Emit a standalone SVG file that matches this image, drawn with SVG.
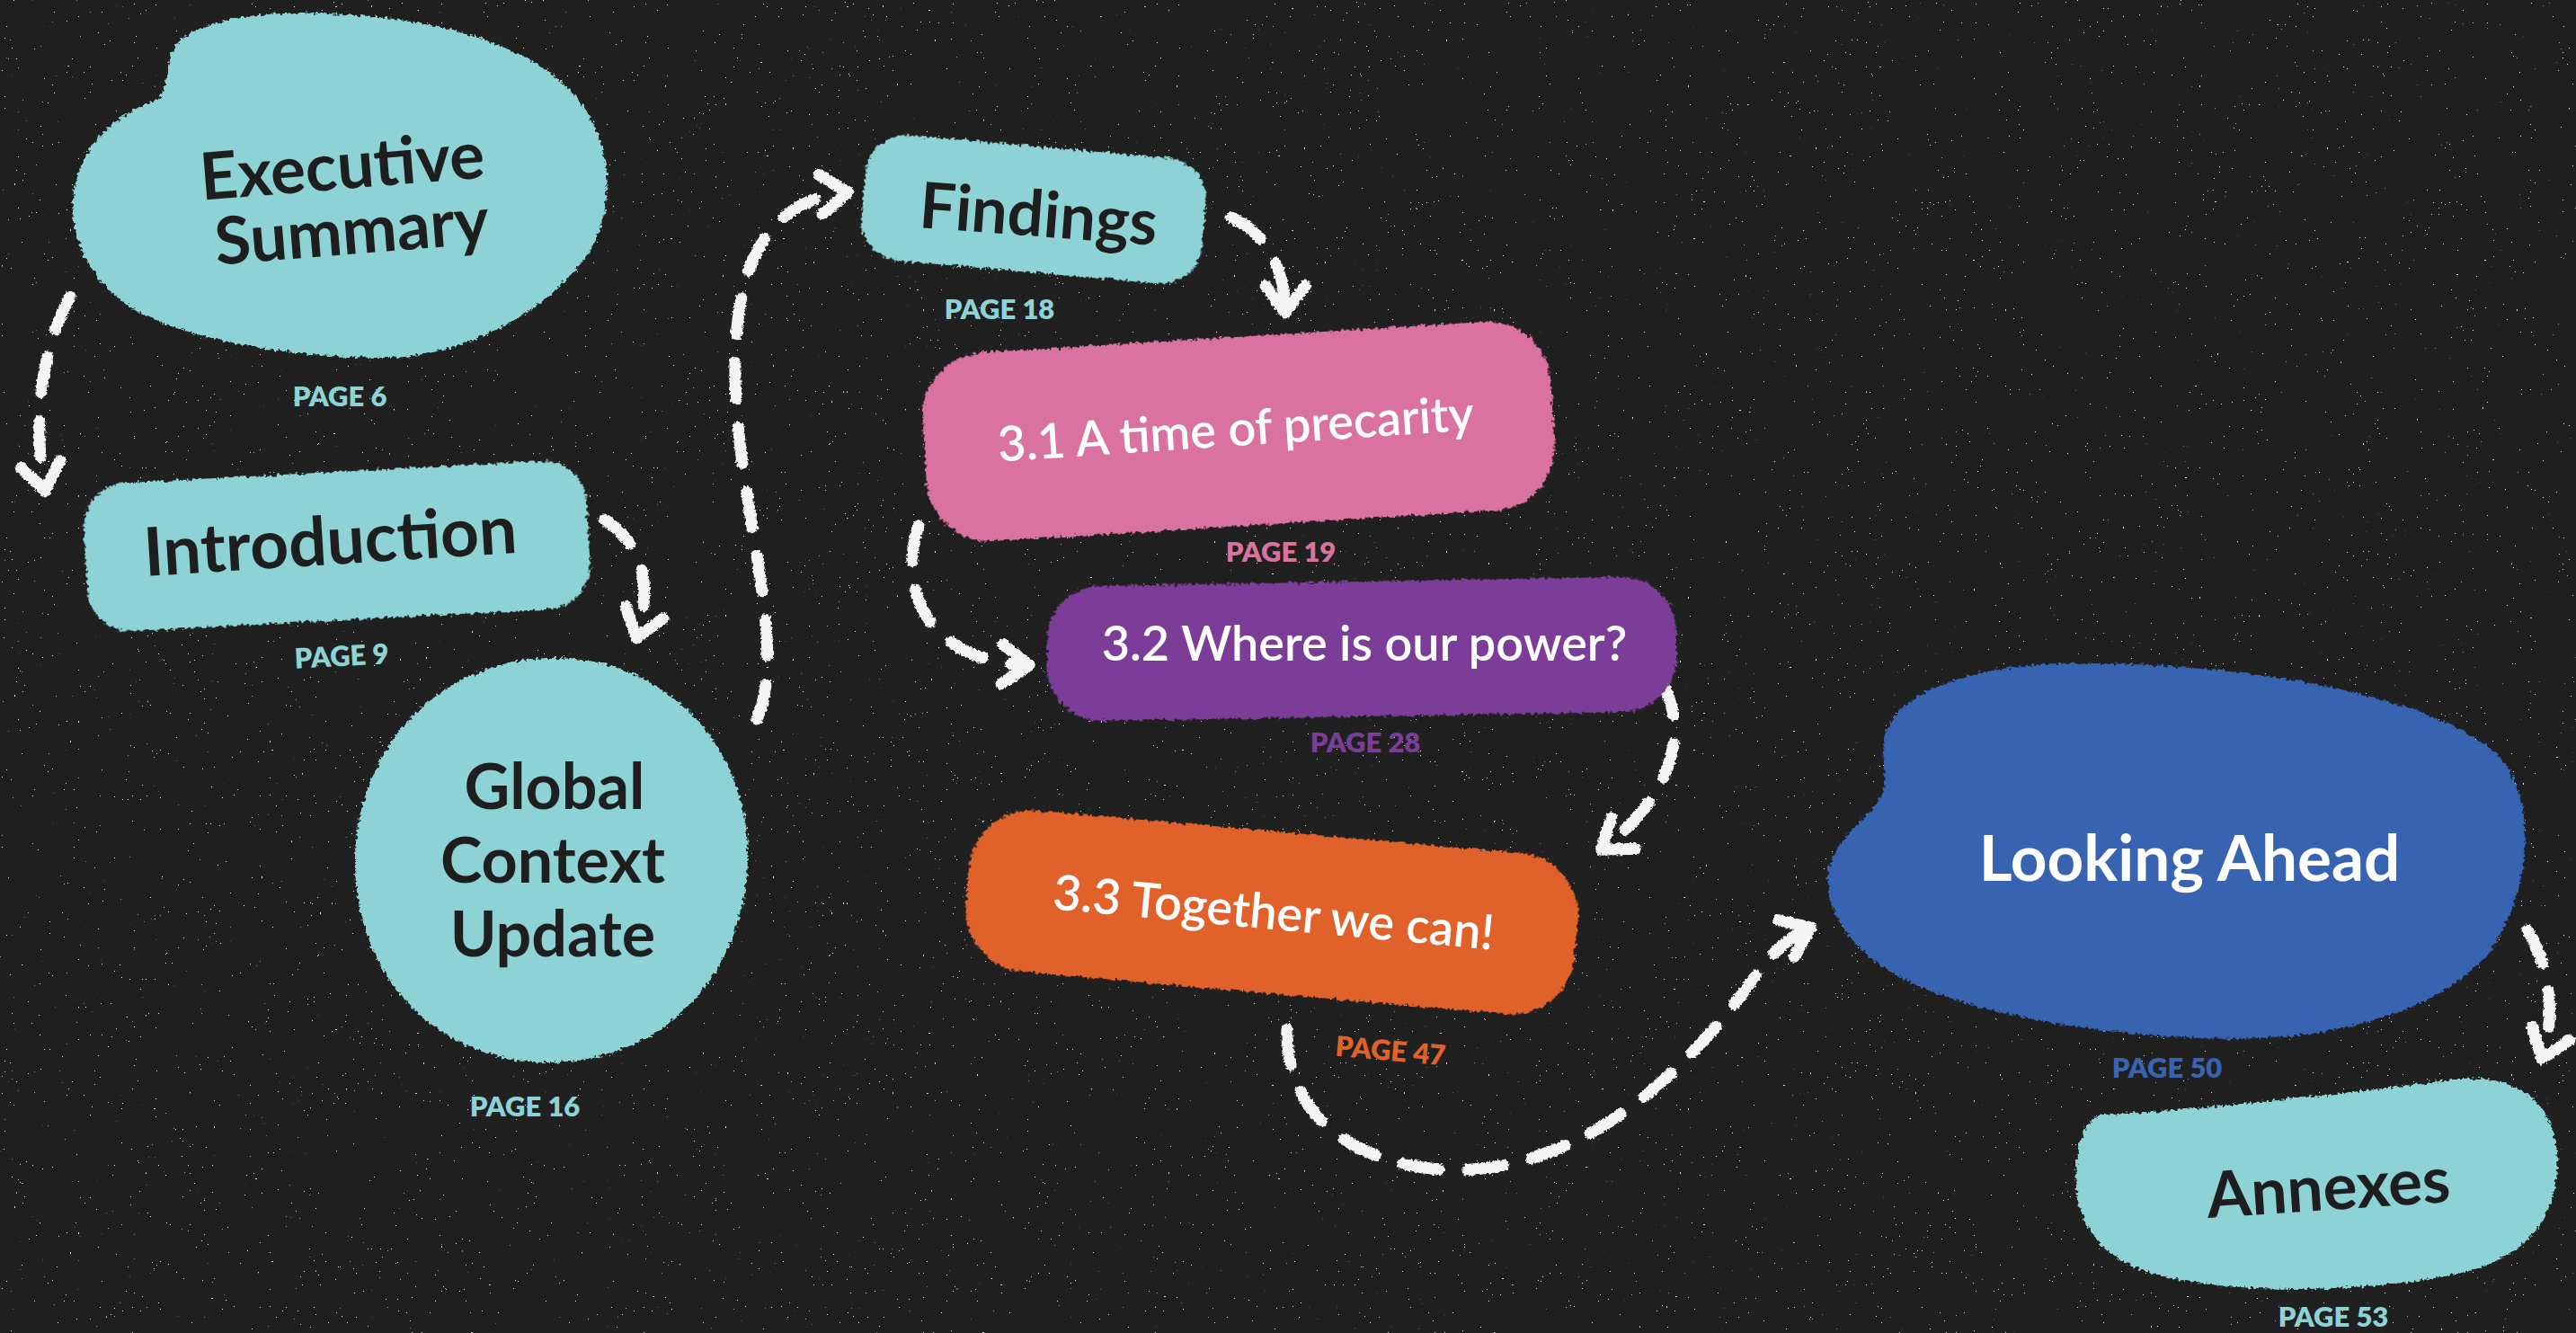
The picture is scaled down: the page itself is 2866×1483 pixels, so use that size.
<svg xmlns="http://www.w3.org/2000/svg" width="2866" height="1483" viewBox="0 0 2866 1483">
<defs>
<style>
.bg{fill:#202020}
.teal{fill:#8dd3d5}
.pink{fill:#d9729f}
.purple{fill:#7b3e98}
.orange{fill:#e0622a}
.blue{fill:#3763b0}
.dark{font-family:Lato,"Liberation Sans",sans-serif;font-weight:700;fill:#1e1e1e;text-anchor:middle}
.light{font-family:Lato,"Liberation Sans",sans-serif;font-weight:600;fill:#ffffff;text-anchor:middle}
.lightb{font-family:Lato,"Liberation Sans",sans-serif;font-weight:700;fill:#ffffff;text-anchor:middle}
.pg{font-family:Lato,"Liberation Sans",sans-serif;font-weight:800;font-size:31px;text-anchor:middle}
.conn{fill:none;stroke:#f4f4f4;stroke-width:13;stroke-linecap:round;stroke-dasharray:40 32;marker-end:url(#arrow)}
</style>
<filter id="rough" x="-5%" y="-5%" width="110%" height="110%">
<feTurbulence type="fractalNoise" baseFrequency="0.25" numOctaves="2" seed="4" result="n"/>
<feDisplacementMap in="SourceGraphic" in2="n" scale="8" xChannelSelector="R" yChannelSelector="G"/>
</filter>
<filter id="chalk" x="-5%" y="-5%" width="110%" height="110%">
<feTurbulence type="fractalNoise" baseFrequency="0.35" numOctaves="2" seed="9" result="n"/>
<feDisplacementMap in="SourceGraphic" in2="n" scale="5" xChannelSelector="R" yChannelSelector="G"/>
</filter>
<filter id="speck" x="0" y="0" width="1" height="1">
<feTurbulence type="fractalNoise" baseFrequency="0.45" numOctaves="2" seed="7"/>
<feColorMatrix type="matrix" values="0 0 0 0 1  0 0 0 0 1  0 0 0 0 1  60 0 0 0 -47.5"/>
</filter>
<marker id="arrow" markerUnits="userSpaceOnUse" viewBox="-45 -35 60 70" markerWidth="60" markerHeight="70" refX="0" refY="0" orient="auto">
<path d="M -30 -22 L 0 0 L -30 22" fill="none" stroke="#f4f4f4" stroke-width="13" stroke-linecap="round" stroke-linejoin="round"/>
</marker>
</defs>
<rect class="bg" x="0" y="0" width="2866" height="1483"/>
<rect x="0" y="0" width="2866" height="1483" fill="#fff" filter="url(#speck)" opacity="0.9"/>

<g id="connectors" filter="url(#chalk)">
<path class="conn" d="M 78 330 C 48 385, 35 460, 50 546"/>
<path class="conn" d="M 672 578 C 715 605, 727 650, 708 710"/>
<path class="conn" d="M 842 800 C 878 720, 820 560, 818 420 C 816 300, 850 222, 943 214"/>
<path class="conn" d="M 1370 242 C 1410 260, 1430 300, 1430 348"/>
<path class="conn" d="M 1022 585 C 1000 650, 1025 735, 1145 740"/>
<path class="conn" d="M 1848 758 C 1880 810, 1862 885, 1782 945"/>
<path class="conn" d="M 1432 1145 C 1430 1250, 1520 1300, 1620 1302 C 1760 1300, 1870 1200, 1950 1090 C 1968 1064, 1985 1045, 2015 1032"/>
<path class="conn" d="M 2812 1035 C 2835 1070, 2845 1130, 2828 1178"/>
</g>

<g id="executive-summary">
<path class="teal" filter="url(#rough)" d="M 190 62 C 200 20, 300 12, 360 15 C 470 18, 600 45, 650 120 C 690 180, 680 260, 640 300 C 590 360, 500 398, 430 398 C 330 398, 220 380, 160 350 C 100 320, 75 260, 82 215 C 90 160, 130 125, 178 110 C 185 95, 186 75, 190 62 Z"/>
<g transform="rotate(-4.6 385 240)">
<text class="dark" x="385" y="210" font-size="73">Executive</text>
<text class="dark" x="390" y="283" font-size="73">Summary</text>
</g>
<text class="pg teal" x="378" y="452">PAGE 6</text>
</g>

<g id="introduction">
<rect class="teal" filter="url(#rough)" x="95" y="525" width="560" height="165" rx="48" transform="rotate(-3 375 607)"/>
<text class="dark" x="368" y="628" font-size="75" transform="rotate(-3.6 368 612)">Introduction</text>
<text class="pg teal" x="380" y="741" transform="rotate(-3 380 730)">PAGE 9</text>
</g>

<g id="global-context-update">
<path class="teal" filter="url(#rough)" d="M 613 732 C 740 730, 832 830, 832 950 C 832 1080, 740 1182, 612 1182 C 480 1182, 393 1080, 395 955 C 397 830, 490 734, 613 732 Z"/>
<text class="dark" x="617" y="900" font-size="70">Global</text>
<text class="dark" x="615" y="982" font-size="70">Context</text>
<text class="dark" x="615" y="1064" font-size="70">Update</text>
<text class="pg teal" x="584" y="1242">PAGE 16</text>
</g>

<g id="findings">
<rect class="teal" filter="url(#rough)" x="960" y="163" width="380" height="140" rx="45" transform="rotate(5 1150 233)"/>
<text class="dark" x="1155" y="263" font-size="71" transform="rotate(4.3 1155 245)">Findings</text>
<text class="pg teal" x="1112" y="355">PAGE 18</text>
</g>

<g id="section-3-1">
<rect class="pink" filter="url(#rough)" x="1028" y="375" width="700" height="210" rx="70" transform="rotate(-3.5 1378 480)"/>
<text class="light" x="1375" y="496" font-size="54" transform="rotate(-3.8 1375 480)">3.1 A time of precarity</text>
<text class="pg pink" x="1425" y="625">PAGE 19</text>
</g>

<g id="section-3-2">
<rect class="purple" filter="url(#rough)" x="1165" y="647" width="700" height="150" rx="60" transform="rotate(-1 1515 722)"/>
<text class="light" x="1518" y="735" font-size="54">3.2 Where is our power?</text>
<text class="pg purple" x="1519" y="837">PAGE 28</text>
</g>

<g id="section-3-3">
<rect class="orange" filter="url(#rough)" x="1075" y="925" width="680" height="180" rx="70" transform="rotate(5 1415 1015)"/>
<text class="light" x="1417" y="1034" font-size="54" transform="rotate(5.3 1417 1018)">3.3 Together we can!</text>
<text class="pg orange" x="1547" y="1180" transform="rotate(5 1547 1170)">PAGE 47</text>
</g>

<g id="looking-ahead">
<path class="blue" filter="url(#rough)" d="M 2100 810 C 2130 750, 2250 735, 2330 738 C 2500 740, 2700 770, 2780 840 C 2830 900, 2810 1000, 2770 1060 C 2700 1140, 2560 1160, 2450 1155 C 2330 1150, 2200 1130, 2120 1090 C 2060 1060, 2025 1010, 2035 965 C 2045 925, 2085 910, 2095 880 C 2100 855, 2090 830, 2100 810 Z"/>
<text class="lightb" x="2436" y="980" font-size="71">Looking Ahead</text>
<text class="pg blue" x="2411" y="1199">PAGE 50</text>
</g>

<g id="annexes">
<path class="teal" filter="url(#rough)" d="M 2340 1240 C 2450 1235, 2620 1215, 2740 1200 C 2820 1195, 2850 1250, 2845 1300 C 2840 1370, 2800 1405, 2720 1420 C 2620 1438, 2480 1440, 2400 1418 C 2330 1400, 2305 1350, 2310 1300 C 2313 1265, 2320 1245, 2340 1240 Z"/>
<text class="dark" x="2591" y="1346" font-size="71" transform="rotate(-3.8 2591 1328)">Annexes</text>
<text class="pg teal" x="2596" y="1476">PAGE 53</text>
</g>
</svg>
